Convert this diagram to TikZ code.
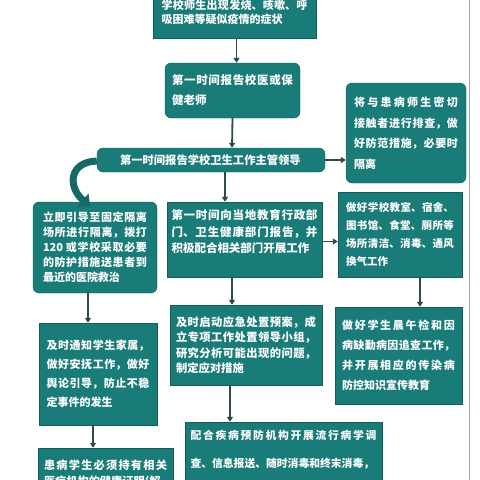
\documentclass[tikz,border=0pt]{standalone}
\usepackage{fontspec}
\newfontfamily\cjk{Noto Sans CJK SC}
\usetikzlibrary{arrows.meta}
\XeTeXlinebreaklocale "zh"
\XeTeXlinebreakskip=0pt plus 3pt
\tolerance=9999
\hbadness=10000
\definecolor{boxteal}{RGB}{26,124,121}
\definecolor{boxedge}{RGB}{18,92,90}
\definecolor{arrgray}{RGB}{48,74,74}
\tikzset{
  box/.style={fill=boxteal,draw=boxedge,text=white,align=justify,inner sep=0pt},
  rbox/.style={box,rounded corners=6pt},
  fs/.style n args={3}{text width=#1pt,
    font=\cjk\bfseries\fontsize{#2}{#3}\selectfont},
  arr/.style={arrgray,line width=1.8pt,-{Triangle[length=5pt,width=6pt]}}
}
\begin{document}
\begin{tikzpicture}[x=1pt,y=-1pt]
\useasboundingbox (0,0) rectangle (480,480);
\clip (0,0) rectangle (480,480);
\draw[gray!70,line width=1pt] (469,0) -- (469,480);
% main column
\node[box,fs={146}{11}{14},minimum width=163pt,minimum height=52pt] (symptom) at (234.5,12)
  {学校师生出现发烧、咳嗽、呼\linebreak 吸困难等疑似疫情的症状};
\node[rbox,fs={121}{11.5}{20},minimum width=135pt,minimum height=55pt] (doctor) at (232.5,90.5)
  {第一时间报告校医或保\linebreak 健老师};
\node[rbox,fs={182}{11.3}{14},minimum width=228pt,minimum height=24pt] (leader) at (211,160)
  {第一时间报告学校卫生工作主管领导};
\node[rbox,fs={104}{11}{20.5},minimum width=120pt,minimum height=100pt] (contact) at (406,133)
  {将与患病师生密切\linebreak 接触者进行排查，做\linebreak 好防范措施，必要时\linebreak 隔离};
\node[rbox,fs={104}{11}{15},minimum width=124pt,minimum height=91pt] (isolate) at (95,247.5)
  {立即引导至固定隔离\linebreak 场所进行隔离，拨打\linebreak 120 或学校采取必要\linebreak 的防护措施送患者到\linebreak 最近的医院救治};
\node[box,fs={146}{11.5}{16.5},text depth=50pt,minimum width=155pt,minimum height=75pt] (report) at (244.5,239.5)
  {第一时间向当地教育行政部\linebreak 门、卫生健康部门报告，并\linebreak 积极配合相关部门开展工作};
\node[box,fs={108}{10.5}{18},minimum width=124pt,minimum height=85pt] (clean) at (400,234.5)
  {做好学校教室、宿舍、\linebreak 图书馆、食堂、厕所等\linebreak 场所清洁、消毒、通风\linebreak 换气工作};
\node[box,fs={113}{11}{20},minimum width=127pt,minimum height=97pt] (check) at (398.5,355.5)
  {做好学生晨午检和因\linebreak 病缺勤病因追查工作，\linebreak 并开展相应的传染病\linebreak 防控知识宣传教育};
\node[box,fs={140}{11.3}{15.5},minimum width=152pt,minimum height=80pt] (plan) at (246,345)
  {及时启动应急处置预案，成\linebreak 立专项工作处置领导小组，\linebreak 研究分析可能出现的问题，\linebreak 制定应对措施};
\node[box,fs={103}{11}{19},minimum width=118pt,minimum height=102pt] (family) at (98,374)
  {及时通知学生家属，\linebreak 做好安抚工作，做好\linebreak 舆论引导，防止不稳\linebreak 定事件的发生};
\node[box,fs={123}{11.2}{16},minimum width=135pt,minimum height=52pt] (health) at (105.5,474)
  {患病学生必须持有相关\linebreak 医疗机构的健康证明(解};
\node[box,fs={186}{10.8}{28},text depth=54pt,minimum width=197pt,minimum height=80pt] (survey) at (283.5,462)
  {配合疾病预防机构开展流行病学调\linebreak 查、信息报送、随时消毒和终末消毒，};
% connectors
\draw[arr] ([xshift=2pt]symptom.south) -- ([xshift=4pt]doctor.north);
\draw[arr] (doctor.south) -- ([xshift=21pt]leader.north);
\draw[arr] (leader.east) -- (contact.west |- leader.east);
\draw[arr] ([xshift=14pt]leader.south) -- ([xshift=-19.5pt]report.north);
\draw[arr] ([yshift=-2pt]report.east) -- ([yshift=-2pt]report.east -| clean.west);
\draw[arr] ([xshift=20pt]clean.south) -- ([xshift=21.5pt]check.north);
\draw[arr] ([xshift=-12.5pt]report.south) -- ([xshift=-14pt]plan.north);
\draw[arr] ([xshift=-7pt]isolate.south) -- ([xshift=-10pt]family.north);
\draw[arr] ([xshift=-5pt]family.south) -- ([xshift=-12.5pt]health.north);
\draw[arr] ([xshift=-16pt]plan.south) -- ([xshift=-53.5pt]survey.north);
\draw[boxteal!85!black,line width=7pt,-{Triangle[length=9pt,width=17pt]}]
  ([yshift=-1pt]leader.west) .. controls (68,162) and (68,188) .. ([xshift=-5pt,yshift=-4pt]isolate.north);
\end{tikzpicture}
\end{document}
